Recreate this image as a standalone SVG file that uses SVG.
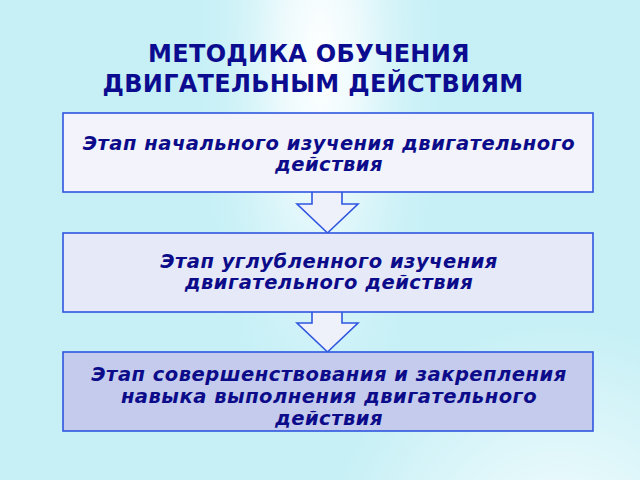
<svg xmlns="http://www.w3.org/2000/svg" width="640" height="480" viewBox="0 0 640 480">
<defs>
<radialGradient id="glow" cx="320" cy="60" r="300" gradientUnits="userSpaceOnUse" gradientTransform="translate(320 60) scale(0.45 1.4) translate(-320 -60)">
<stop offset="0" stop-color="#ffffff"/>
<stop offset="0.3" stop-color="#f0fbfd" stop-opacity="0.9"/>
<stop offset="1" stop-color="#c6f0f6" stop-opacity="0"/>
</radialGradient>
<radialGradient id="band" cx="560" cy="560" r="240" gradientUnits="userSpaceOnUse">
<stop offset="0" stop-color="#ffffff" stop-opacity="0.85"/>
<stop offset="1" stop-color="#ffffff" stop-opacity="0"/>
</radialGradient>
<style>
.box{stroke:#2f55e0;stroke-width:1.6}
.arr{fill:#eef0fa;stroke:#2f55e0;stroke-width:1.6;stroke-linejoin:miter}
.t{font-family:"DejaVu Sans",sans-serif;font-weight:bold;font-style:italic;font-size:19.5px;letter-spacing:0.5px;fill:#0c0c8a;text-anchor:middle}
.h{font-family:"DejaVu Sans",sans-serif;font-weight:bold;font-size:24px;letter-spacing:0.3px;fill:#0c0c90;text-anchor:middle}
</style>
</defs>
<rect width="640" height="480" fill="#c6f0f6"/>
<rect width="640" height="480" fill="url(#glow)"/>
<rect width="640" height="480" fill="url(#band)"/>
<g id="title">
<text class="h" x="309" y="62">МЕТОДИКА ОБУЧЕНИЯ</text>
<text class="h" x="313" y="92">ДВИГАТЕЛЬНЫМ ДЕЙСТВИЯМ</text>
</g>
<g id="connectors">
<path class="arr" d="M312 192 V204 H297 L327.5 233 L358 204 H342 V192"/>
<path class="arr" d="M312 312 V323 H297 L327.5 352 L358 323 H342 V312"/>
</g>
<g id="stage1">
<rect class="box" x="63" y="113" width="530" height="79" fill="#f3f4fb"/>
<text class="t" x="329" y="150">Этап начального изучения двигательного</text>
<text class="t" x="329" y="171">действия</text>
</g>
<g id="stage2">
<rect class="box" x="63" y="233" width="530" height="79" fill="#e6e9f7"/>
<text class="t" x="329" y="268">Этап углубленного изучения</text>
<text class="t" x="329" y="289">двигательного действия</text>
</g>
<g id="stage3">
<rect class="box" x="63" y="352" width="530" height="79" fill="#c4cbec"/>
<text class="t" x="329" y="381">Этап совершенствования и закрепления</text>
<text class="t" x="329" y="403">навыка выполнения двигательного</text>
<text class="t" x="329" y="425">действия</text>
</g>
</svg>
